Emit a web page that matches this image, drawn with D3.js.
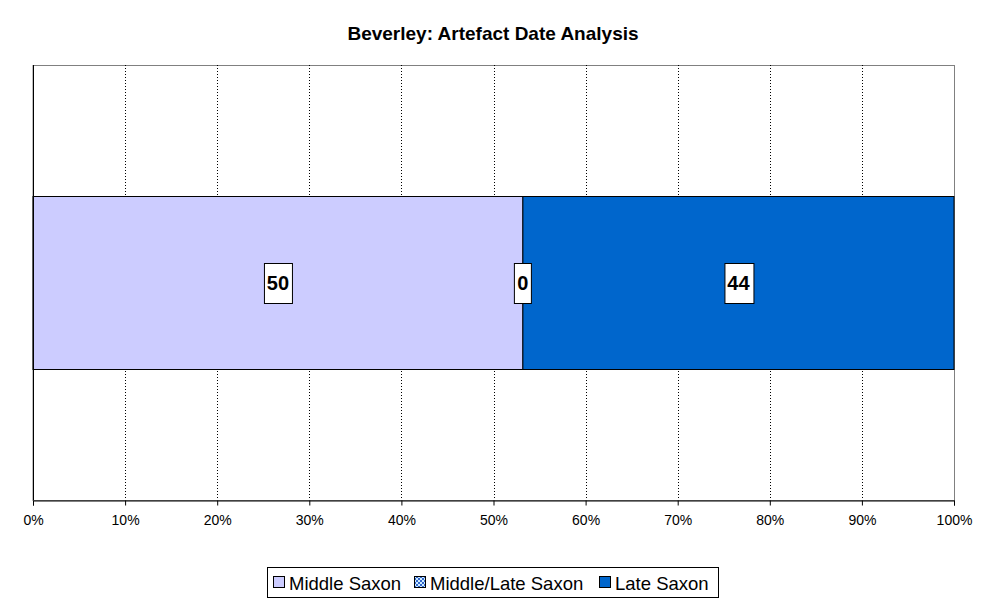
<!DOCTYPE html>
<html>
<head>
<meta charset="utf-8">
<script src="https://cdn.jsdelivr.net/npm/d3@7"></script>
<style>
body { margin: 0; background: #fff; }
text { font-family: Arial, "Liberation Sans", sans-serif; }
</style>
</head>
<body>
<svg id="chart" width="986" height="605"></svg>
<script>
// data
var series = ["Middle Saxon", "Middle/Late Saxon", "Late Saxon"];
var values = [50, 0, 44];
var colors = ["#CCCCFF", "#99CCFF", "#0066CC"];
var ticks = [0, 0.1, 0.2, 0.3, 0.4, 0.5, 0.6, 0.7, 0.8, 0.9, 1];

var svg = d3.select("#chart");
var pLeft = 33, pRight = 954, pTop = 65, pBottom = 500;

var defs = svg.append("defs");
var pat = defs.append("pattern").attr("id", "chk")
  .attr("width", 4).attr("height", 4).attr("patternUnits", "userSpaceOnUse");
pat.append("rect").attr("width", 4).attr("height", 4).attr("fill", "#CCECFF");
pat.append("rect").attr("width", 2).attr("height", 2).attr("fill", "#3366CC");
pat.append("rect").attr("x", 2).attr("y", 2).attr("width", 2).attr("height", 2).attr("fill", "#3366CC");

var x = d3.scaleLinear().domain([0, 1]).range([pLeft, pRight]);
var y = d3.scaleBand().domain(["Beverley"]).range([pTop, pBottom]).paddingInner(0).paddingOuter(0.757);

svg.append("text")
  .attr("x", 493).attr("y", 40)
  .attr("text-anchor", "middle")
  .style("font-size", "19px").style("font-weight", "bold")
  .text("Beverley: Artefact Date Analysis");

// plot area border
svg.append("rect")
  .attr("x", pLeft).attr("y", pTop + 0.5)
  .attr("width", pRight - pLeft + 0.5).attr("height", pBottom - pTop)
  .attr("fill", "#fff").attr("stroke", "#808080").attr("stroke-width", 1);

// gridlines
svg.append("g").selectAll("line")
  .data(ticks.slice(1, -1))
  .join("line")
  .attr("x1", function(d) { return Math.round(x(d)) + 0.5; })
  .attr("x2", function(d) { return Math.round(x(d)) + 0.5; })
  .attr("y1", pTop).attr("y2", pBottom)
  .attr("stroke", "#000").attr("stroke-dasharray", "1,2");

// stacked bar
var total = d3.sum(values);
var cum = 0;
var segs = values.map(function(v, i) {
  var s = { name: series[i], v: v, x0: cum / total, x1: (cum + v) / total, i: i };
  cum += v;
  return s;
});

svg.append("g").selectAll("rect")
  .data(segs)
  .join("rect")
  .attr("x", function(d) { return x(d.x0); })
  .attr("width", function(d) { return x(d.x1) - x(d.x0); })
  .attr("y", Math.round(y("Beverley")) + 0.5)
  .attr("height", Math.round(y.bandwidth()))
  .attr("fill", function(d) { return d.i == 1 ? "url(#chk)" : colors[d.i]; })
  .attr("stroke", "#000").attr("stroke-width", 1);

// axes
var axis = svg.append("g")
  .attr("transform", "translate(0," + (pBottom + 0.5) + ")")
  .call(d3.axisBottom(x).tickValues(ticks).tickSize(5).tickFormat(d3.format(".0%")));
axis.select(".domain").attr("stroke", "#000");
axis.selectAll("text").style("font-size", "14px").attr("dy", "1.2em").attr("fill", "#000");

svg.append("line")
  .attr("x1", pLeft + 0.5).attr("x2", pLeft + 0.5)
  .attr("y1", pTop).attr("y2", pBottom)
  .attr("stroke", "#000");

// data labels
var lab = svg.append("g").selectAll("g")
  .data(segs)
  .join("g")
  .attr("transform", function(d) {
    return "translate(" + (x(d.x0) + x(d.x1)) / 2 + "," + Math.round(y("Beverley") + y.bandwidth() / 2) + ")";
  });
lab.append("text")
  .attr("text-anchor", "middle").attr("dy", "0.35em")
  .style("font-size", "20px").style("font-weight", "bold")
  .text(function(d) { return d.v; });
lab.each(function() {
  var g = d3.select(this);
  var bb = g.select("text").node().getBBox();
  g.insert("rect", "text")
    .attr("x", Math.round(bb.x - 3) + 0.5).attr("y", -19.5)
    .attr("width", Math.round(bb.width + 6)).attr("height", 40)
    .attr("fill", "#fff").attr("stroke", "#000");
});

// legend
var leg = svg.append("g");
leg.append("rect")
  .attr("x", 267.5).attr("y", 567.5).attr("width", 451).attr("height", 30)
  .attr("fill", "#fff").attr("stroke", "#000");
var lx = [273, 414, 599];
series.forEach(function(s, i) {
  leg.append("rect")
    .attr("x", lx[i] + 0.5).attr("y", 576.5).attr("width", 11).attr("height", 11)
    .attr("fill", i == 1 ? "url(#chk)" : colors[i]).attr("stroke", "#000");
  leg.append("text")
    .attr("x", lx[i] + 16).attr("y", 589.5)
    .style("font-size", "18.5px")
    .text(s);
});
</script>
</body>
</html>
